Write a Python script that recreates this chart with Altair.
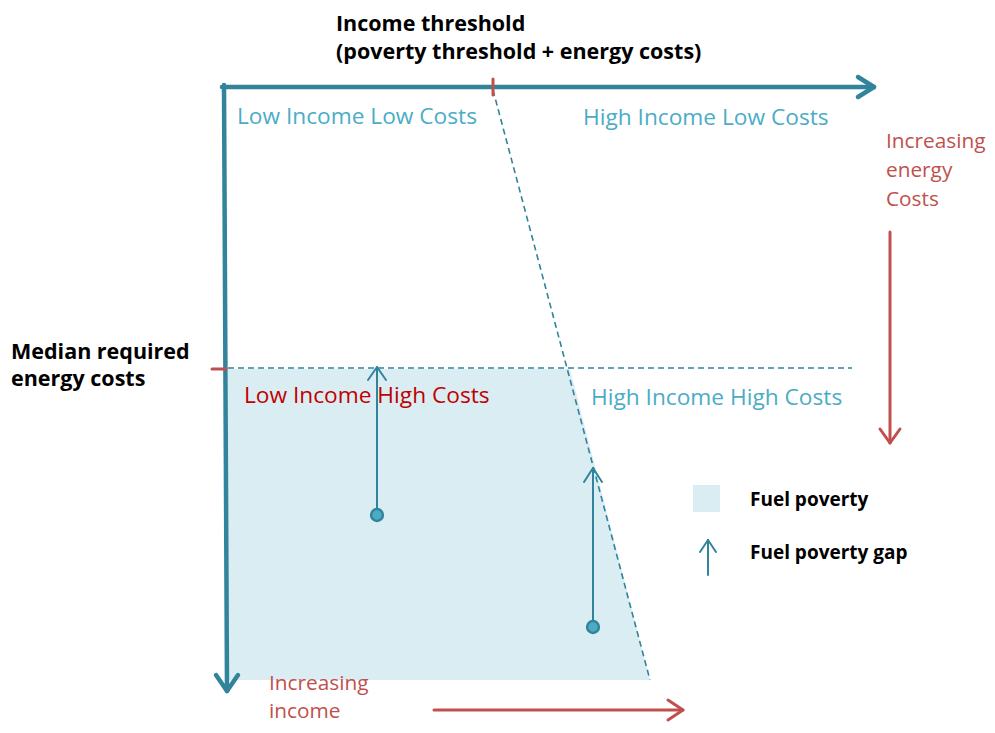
import altair as alt
import pandas as pd

# ---- data (diagram coordinates: income axis -> x, energy-cost axis -> y, downward) ----
TEAL = "#31849B"
LBLUE = "#4BACC6"
RED = "#C0504D"
DARKRED = "#C00000"
FILL = "#DAEDF3"

# thick axis arrows
axis_x1 = [222, 858, 858, 224, 216, 238]
axis_y1 = [87, 77, 97, 85, 675, 675]
axis_x2 = [873, 874, 874, 227, 227, 227]
axis_y2 = [87, 87, 87, 690, 691, 691]

# gap arrows (thin)
gap_x1 = [377, 368, 386, 593, 584, 602, 708, 700, 716]
gap_y1 = [515, 380, 380, 627, 482, 482, 575, 552, 552]
gap_x2 = [377, 377, 377, 593, 593, 593, 708, 708, 708]
gap_y2 = [368, 367, 367, 468, 468, 468, 540, 540, 540]

# dashed threshold lines
dash_x1 = [493, 228]
dash_y1 = [90, 368]
dash_x2 = [650, 852]
dash_y2 = [680, 368]

# red arrows and ticks
red_x1 = [434, 668, 668, 890, 880, 900, 493, 212]
red_y1 = [710, 700, 720, 232, 429, 429, 79, 369]
red_x2 = [682, 683, 683, 890, 890, 890, 493, 226]
red_y2 = [710, 710, 710, 442, 443, 443, 95, 369]

# fuel poverty region (between cost median and bottom, left axis to threshold line)
area_y = [369, 680]
area_x = [228, 228]
area_x2 = [570, 650]

# households
hh_x = [377, 593]
hh_y = [515, 627]

# legend swatch
sw_x = [693]
sw_y = [485]
sw_x2 = [720]
sw_y2 = [512]

# texts
bold_text = ["Income threshold", "(poverty threshold + energy costs)",
             "Median required", "energy costs"]
bold_x = [336, 336, 11, 11]
bold_y = [25, 53, 353, 380]

legend_text = ["Fuel poverty", "Fuel poverty gap"]
legend_x = [750, 750]
legend_y = [500, 553]

quad_text = ["Low Income Low Costs", "High Income Low Costs", "High Income High Costs"]
quad_x = [237, 583, 591]
quad_y = [117, 118, 398]

red_quad_text = ["Low Income High Costs"]
red_quad_x = [244]
red_quad_y = [396]

inc_text = ["Increasing", "energy", "Costs", "Increasing", "income"]
inc_x = [886, 886, 886, 269, 269]
inc_y = [142, 171, 200, 684, 712]

# ---- chart ----
xs = alt.Scale(domain=[8, 987], nice=False, zero=False)
ys = alt.Scale(domain=[8, 725], nice=False, zero=False, reverse=True)
FONT = "Open Sans"


def segs(x1, y1, x2, y2):
    return pd.DataFrame({"x": x1, "y": y1, "x2": x2, "y2": y2})


def rule_layer(df, color, width, dash=None):
    kw = dict(color=color, strokeWidth=width, strokeCap="round")
    if dash:
        kw["strokeDash"] = dash
        kw["strokeCap"] = "butt"
    return alt.Chart(df).mark_rule(**kw).encode(
        x=alt.X("x:Q", scale=xs, axis=None),
        y=alt.Y("y:Q", scale=ys, axis=None),
        x2="x2:Q", y2="y2:Q")


def text_layer(txt, x, y, color, size, weight="normal"):
    df = pd.DataFrame({"t": txt, "x": x, "y": y})
    return alt.Chart(df).mark_text(align="left", baseline="middle", font=FONT,
                                   fontSize=size, fontWeight=weight, color=color).encode(
        x=alt.X("x:Q", scale=xs, axis=None),
        y=alt.Y("y:Q", scale=ys, axis=None),
        text="t:N")


area = alt.Chart(pd.DataFrame({"y": area_y, "x": area_x, "x2": area_x2})).mark_area(
    orient="horizontal", color=FILL, opacity=1).encode(
    y=alt.Y("y:Q", scale=ys, axis=None),
    x=alt.X("x:Q", scale=xs, axis=None),
    x2="x2:Q")

swatch = alt.Chart(pd.DataFrame({"x": sw_x, "y": sw_y, "x2": sw_x2, "y2": sw_y2})).mark_rect(
    color=FILL).encode(
    x=alt.X("x:Q", scale=xs, axis=None), y=alt.Y("y:Q", scale=ys, axis=None),
    x2="x2:Q", y2="y2:Q")

points = alt.Chart(pd.DataFrame({"x": hh_x, "y": hh_y})).mark_point(
    filled=True, size=140, color=LBLUE, stroke=TEAL, strokeWidth=2.5, opacity=1).encode(
    x=alt.X("x:Q", scale=xs, axis=None), y=alt.Y("y:Q", scale=ys, axis=None))

chart = alt.layer(
    area,
    swatch,
    rule_layer(segs(dash_x1, dash_y1, dash_x2, dash_y2), TEAL, 1.6, [6, 4]),
    rule_layer(segs(axis_x1, axis_y1, axis_x2, axis_y2), TEAL, 4.5),
    rule_layer(segs(gap_x1, gap_y1, gap_x2, gap_y2), TEAL, 2),
    rule_layer(segs(red_x1, red_y1, red_x2, red_y2), RED, 3),
    points,
    text_layer(bold_text, bold_x, bold_y, "#000000", 21.5, "bold"),
    text_layer(legend_text, legend_x, legend_y, "#000000", 19, "bold"),
    text_layer(quad_text, quad_x, quad_y, LBLUE, 22.7),
    text_layer(red_quad_text, red_quad_x, red_quad_y, DARKRED, 22.7),
    text_layer(inc_text, inc_x, inc_y, RED, 20.8),
).properties(
    width=979, height=717, padding=0,
    autosize=alt.AutoSizeParams(type="none"),
).configure_view(stroke=None)

chart.save("out.html", embed_options={"renderer": "svg", "actions": False})
